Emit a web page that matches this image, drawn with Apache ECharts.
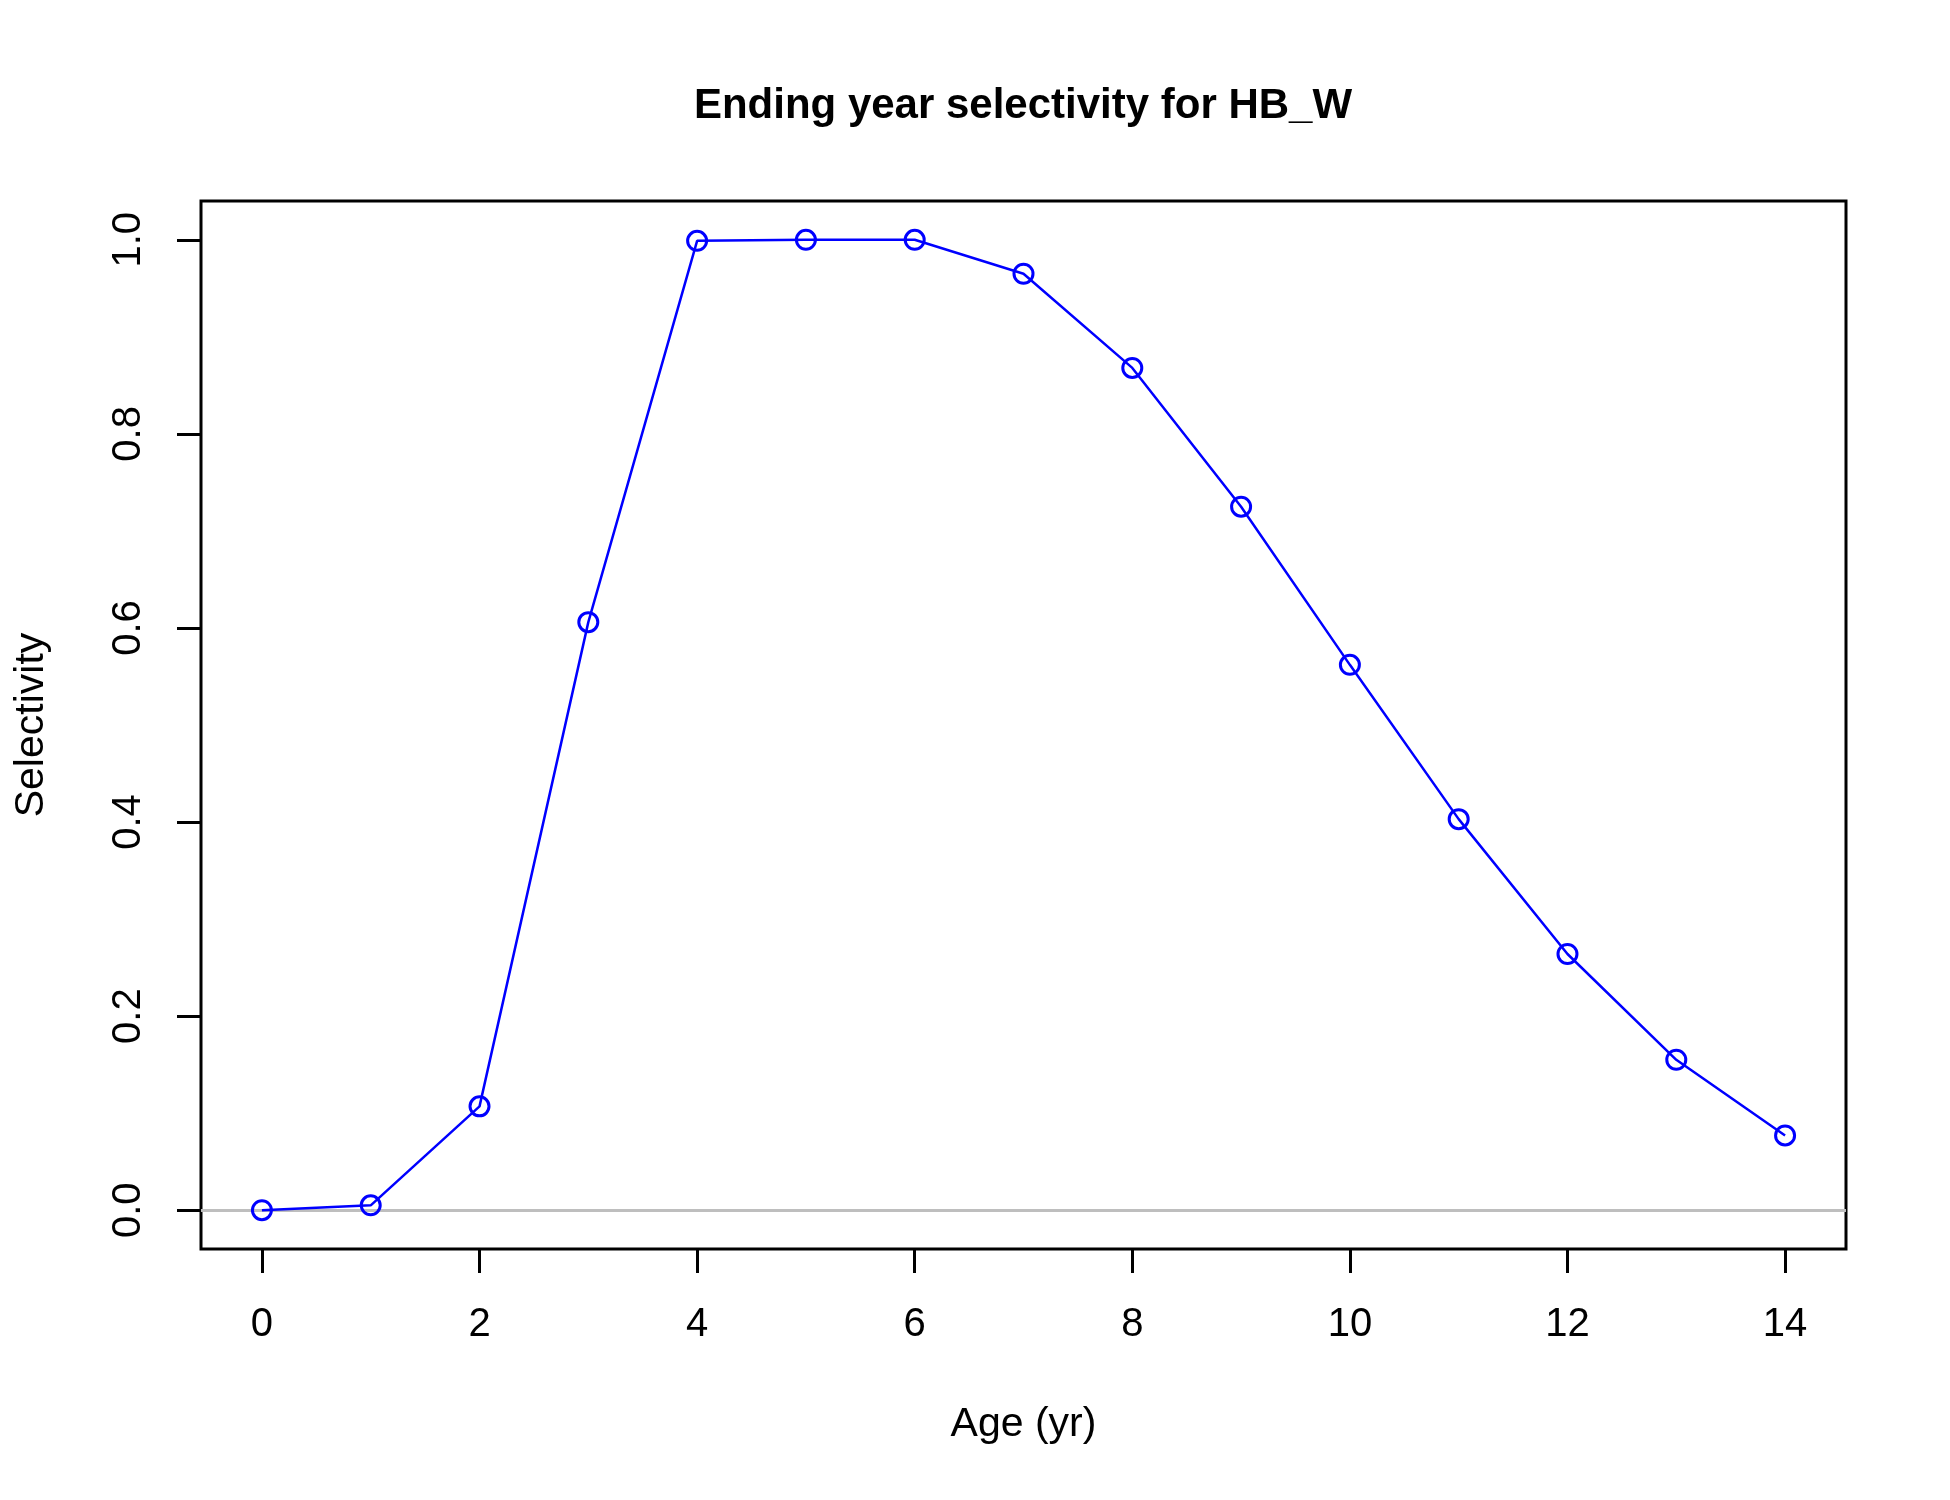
<!DOCTYPE html>
<html>
<head>
<meta charset="utf-8">
<script src="https://cdn.jsdelivr.net/npm/echarts@6/dist/echarts.min.js"></script>
<style>
html,body{margin:0;padding:0;background:#fff;}
#chart{width:1950px;height:1500px;}
</style>
</head>
<body>
<div id="chart"></div>
<script>
const ages = [0,1,2,3,4,5,6,7,8,9,10,11,12,13,14];
const selectivity = [0.0,0.005,0.107,0.606,0.999,1.0,1.0,0.965,0.868,0.725,0.562,0.403,0.264,0.155,0.077];
const xTicks = [0,2,4,6,8,10,12,14];
const yTicks = [0,0.2,0.4,0.6,0.8,1.0];
const titleText = 'Ending year selectivity for HB_W';
const xName = 'Age (yr)';
const yName = 'Selectivity';

const font = 'Liberation Sans, Arial, sans-serif';
const chart = echarts.init(document.getElementById('chart'));
chart.setOption({
  backgroundColor: '#ffffff',
  animation: false,
  title: {
    text: titleText,
    left: 1018,
    textAlign: 'center',
    top: 80,
    textStyle: {fontFamily: font, fontSize: 42, fontWeight: 'bold', color: '#000'}
  },
  grid: {
    left: 201, right: 104, top: 201, bottom: 251,
    show: true, borderColor: '#000', borderWidth: 3, backgroundColor: 'transparent'
  },
  xAxis: {
    type: 'value', min: -0.56, max: 14.56,
    name: xName, nameLocation: 'middle', nameGap: 155,
    nameTextStyle: {fontFamily: font, fontSize: 41, color: '#000'},
    axisLine: {show: false, onZero: false},
    axisTick: {show: true, inside: false, length: 24, customValues: xTicks, lineStyle: {color: '#000', width: 3}},
    axisLabel: {show: true, customValues: xTicks, margin: 56, fontFamily: font, fontSize: 40, color: '#000'},
    splitLine: {show: false}
  },
  yAxis: {
    type: 'value', min: -0.04, max: 1.04,
    name: yName, nameLocation: 'middle', nameGap: 149, nameRotate: 90,
    nameTextStyle: {fontFamily: font, fontSize: 41, color: '#000'},
    axisLine: {show: false, onZero: false},
    axisTick: {show: true, inside: false, length: 24, customValues: yTicks, lineStyle: {color: '#000', width: 3}},
    axisLabel: {show: true, customValues: yTicks, rotate: 90, margin: 52, fontFamily: font, fontSize: 40, color: '#000',
      formatter: v => v.toFixed(1)},
    splitLine: {show: false}
  },
  series: [{
    type: 'line',
    data: ages.map((a, i) => [a, selectivity[i]]),
    symbol: 'circle',
    symbolSize: 19,
    showSymbol: true,
    lineStyle: {color: '#0000FF', width: 2.5},
    itemStyle: {color: 'rgba(0,0,0,0)', borderColor: '#0000FF', borderWidth: 3},
    z: 3,
    markLine: {
      silent: true,
      symbol: ['none', 'none'],
      label: {show: false},
      lineStyle: {color: '#BEBEBE', width: 3, type: 'solid'},
      data: [{yAxis: 0}],
      z: 1
    }
  }]
});
</script>
</body>
</html>
